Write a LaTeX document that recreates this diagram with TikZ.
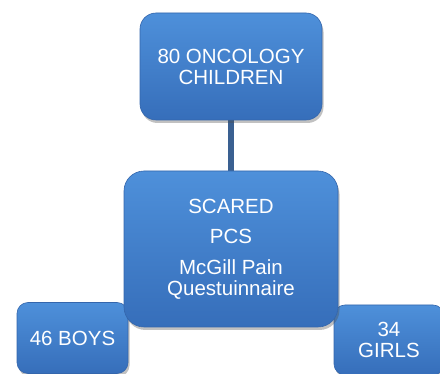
\documentclass[tikz,border=0pt]{standalone}
\usepackage{fontspec}
\setmainfont{Liberation Sans}
\usetikzlibrary{shadows}
\definecolor{boxtop}{RGB}{78,144,218}
\definecolor{boxbot}{RGB}{54,110,186}
\definecolor{boxedge}{RGB}{52,102,172}
\definecolor{linkc}{RGB}{58,96,145}
\tikzset{
  bluebox/.style={rectangle, rounded corners=16pt, draw=boxedge, line width=0.6pt,
    top color=boxtop, bottom color=boxbot, text=white, align=center, inner sep=0pt,
    font=\fontsize{20.5}{21}\selectfont,
    drop shadow={shadow xshift=1.5pt, shadow yshift=-3pt, opacity=0.35, fill=black!70}},
  smallbox/.style={bluebox, rounded corners=11pt},
  link/.style={draw=linkc, line width=6pt}
}
\begin{document}
\begin{tikzpicture}[x=1pt,y=-1pt]
\useasboundingbox (0,0) rectangle (440,374);
\clip (0,0) rectangle (440,374);
\coordinate (ta) at (231,119);
\coordinate (tb) at (231,172);
\draw[link] (ta) -- (tb);
\node[bluebox, minimum width=182pt, minimum height=107pt] (top) at (231,66.5)
  {80 ONCOLOGY\\CHILDREN};
\node[smallbox, minimum width=111pt, minimum height=71pt] (boys) at (72.5,338)
  {46 BOYS};
\node[smallbox, minimum width=110pt, minimum height=70pt] (girls) at (389,340)
  {34\\GIRLS};
\node[bluebox, rounded corners=20pt, minimum width=214pt, minimum height=156pt] (mid) at (231,249)
  {SCARED\\[9pt]PCS\\[10pt]McGill Pain\\Questuinnaire};
\end{tikzpicture}
\end{document}
